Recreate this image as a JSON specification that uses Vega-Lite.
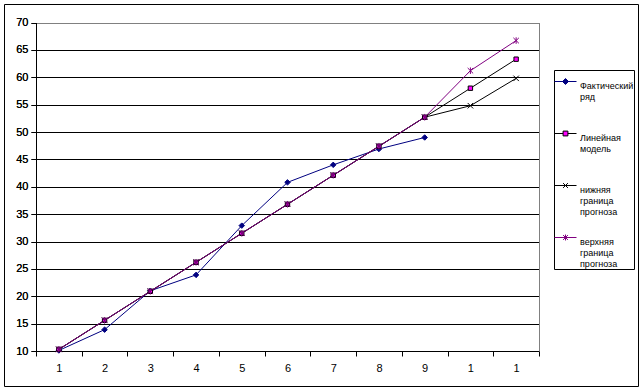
{
  "$schema": "https://vega.github.io/schema/vega-lite/v6.json",
  "width": 634,
  "height": 382,
  "autosize": {"type": "none"},
  "padding": {"left": 4, "top": 4, "right": 5, "bottom": 5},
  "background": "white",
  "config": {
    "font": "Liberation Sans",
    "view": {"stroke": "black", "strokeWidth": 1},
    "axis": {"labelFont": "Liberation Sans", "labelFontSize": 11, "labelColor": "black", "domainColor": "black", "tickColor": "black", "gridOpacity": 1, "tickSize": 5, "domainWidth": 1, "tickWidth": 1, "gridWidth": 1}
  },
  "data": {"values": [
    {"x": 1, "series": "Фактический ряд", "value": 10.1},
    {"x": 2, "series": "Фактический ряд", "value": 13.9},
    {"x": 3, "series": "Фактический ряд", "value": 21.0},
    {"x": 4, "series": "Фактический ряд", "value": 23.9},
    {"x": 5, "series": "Фактический ряд", "value": 32.9},
    {"x": 6, "series": "Фактический ряд", "value": 40.8},
    {"x": 7, "series": "Фактический ряд", "value": 44.0},
    {"x": 8, "series": "Фактический ряд", "value": 46.9},
    {"x": 9, "series": "Фактический ряд", "value": 49.0},
    {"x": 1, "series": "Линейная модель", "value": 10.3},
    {"x": 2, "series": "Линейная модель", "value": 15.6},
    {"x": 3, "series": "Линейная модель", "value": 20.9},
    {"x": 4, "series": "Линейная модель", "value": 26.2},
    {"x": 5, "series": "Линейная модель", "value": 31.5},
    {"x": 6, "series": "Линейная модель", "value": 36.8},
    {"x": 7, "series": "Линейная модель", "value": 42.1},
    {"x": 8, "series": "Линейная модель", "value": 47.4},
    {"x": 9, "series": "Линейная модель", "value": 52.7},
    {"x": 10, "series": "Линейная модель", "value": 58.0},
    {"x": 11, "series": "Линейная модель", "value": 63.3},
    {"x": 1, "series": "нижняя граница прогноза", "value": 10.3},
    {"x": 2, "series": "нижняя граница прогноза", "value": 15.6},
    {"x": 3, "series": "нижняя граница прогноза", "value": 20.9},
    {"x": 4, "series": "нижняя граница прогноза", "value": 26.2},
    {"x": 5, "series": "нижняя граница прогноза", "value": 31.5},
    {"x": 6, "series": "нижняя граница прогноза", "value": 36.8},
    {"x": 7, "series": "нижняя граница прогноза", "value": 42.1},
    {"x": 8, "series": "нижняя граница прогноза", "value": 47.4},
    {"x": 9, "series": "нижняя граница прогноза", "value": 52.7},
    {"x": 10, "series": "нижняя граница прогноза", "value": 54.8},
    {"x": 11, "series": "нижняя граница прогноза", "value": 59.8},
    {"x": 1, "series": "верхняя граница прогноза", "value": 10.3},
    {"x": 2, "series": "верхняя граница прогноза", "value": 15.6},
    {"x": 3, "series": "верхняя граница прогноза", "value": 20.9},
    {"x": 4, "series": "верхняя граница прогноза", "value": 26.2},
    {"x": 5, "series": "верхняя граница прогноза", "value": 31.5},
    {"x": 6, "series": "верхняя граница прогноза", "value": 36.8},
    {"x": 7, "series": "верхняя граница прогноза", "value": 42.1},
    {"x": 8, "series": "верхняя граница прогноза", "value": 47.4},
    {"x": 9, "series": "верхняя граница прогноза", "value": 52.7},
    {"x": 10, "series": "верхняя граница прогноза", "value": 61.2},
    {"x": 11, "series": "верхняя граница прогноза", "value": 66.7}
  ]},
  "encoding": {
    "x": {
      "field": "x", "type": "ordinal", "bandPosition": 0.5,
      "scale": {"type": "band", "paddingInner": 0, "paddingOuter": 0, "range": [32, 535]},
      "axis": {"title": null, "labelAngle": 0, "tickBand": "extent", "grid": false, "labelPadding": 6, "offset": -35, "labelExpr": "datum.value >= 10 ? '1' : datum.label"}
    },
    "y": {
      "field": "value", "type": "quantitative",
      "scale": {"domain": [10, 70], "nice": false, "zero": false, "range": [347, 18.5]},
      "axis": {"title": null, "orient": "left", "offset": -32, "values": [10, 15, 20, 25, 30, 35, 40, 45, 50, 55, 60, 65, 70], "labelPadding": 3,
        "gridColor": {"condition": {"test": "datum.value == 70", "value": "#808080"}, "value": "black"}}
    }
  },
  "layer": [
    {
      "mark": {"type": "line", "strokeWidth": 1},
      "encoding": {
        "color": {"field": "series", "type": "nominal", "legend": null,
          "scale": {"domain": ["Фактический ряд", "Линейная модель", "нижняя граница прогноза", "верхняя граница прогноза"], "range": ["#000080", "#000000", "#000000", "#800080"]}},
        "order": {"field": "x", "type": "quantitative"}
      }
    },
    {
      "mark": {"type": "point", "size": 30, "strokeWidth": 1, "opacity": 1},
      "encoding": {
        "shape": {"field": "series", "type": "nominal", "legend": null,
          "scale": {"domain": ["Фактический ряд", "Линейная модель", "нижняя граница прогноза", "верхняя граница прогноза"], "range": ["M0,-1L1,0L0,1L-1,0Z", "M-0.8,-0.8H0.8V0.8H-0.8Z", "M-1,-1L1,1M-1,1L1,-1", "M-1,-1L1,1M-1,1L1,-1M0,-1.2V1.2"]}},
        "fill": {"field": "series", "type": "nominal", "legend": null,
          "scale": {"domain": ["Фактический ряд", "Линейная модель", "нижняя граница прогноза", "верхняя граница прогноза"], "range": ["#000080", "#FF00FF", "transparent", "transparent"]}},
        "stroke": {"field": "series", "type": "nominal", "legend": null,
          "scale": {"domain": ["Фактический ряд", "Линейная модель", "нижняя граница прогноза", "верхняя граница прогноза"], "range": ["#000080", "#000000", "#000000", "#800080"]}}
      }
    },
    {
      "mark": {"type": "point", "size": 30, "opacity": 0},
      "encoding": {
        "y": {"field": "value", "type": "quantitative",
          "axis": {"title": null, "orient": "right", "offset": -99, "labels": false, "ticks": false, "grid": false, "domainColor": "#808080"}},
        "shape": {"field": "series", "type": "nominal",
          "scale": {"domain": ["Фактический ряд", "Линейная модель", "нижняя граница прогноза", "верхняя граница прогноза"], "range": ["M-1,0H1M0,-0.27L0.27,0L0,0.27L-0.27,0Z", "M-1,0H-0.22M0.22,0H1M-0.22,-0.22H0.22V0.22H-0.22Z", "M-1,0H1M-0.22,-0.22L0.22,0.22M-0.22,0.22L0.22,-0.22", "M-1,0H1M-0.22,-0.22L0.22,0.22M-0.22,0.22L0.22,-0.22M0,-0.27V0.27"]},
          "legend": {"title": null, "orient": "none", "legendX": 550, "legendY": 66, "symbolSize": 484, "symbolOpacity": 1, "symbolStrokeWidth": 1, "labelFont": "Liberation Sans", "labelFontSize": 9, "labelColor": "black",
            "labelExpr": "length(split(datum.label, ' ')) < 3 ? [split(datum.label, ' ')[0], split(datum.label, ' ')[1], ' '] : split(datum.label, ' ')",
            "labelBaseline": "top", "labelOffset": 3, "strokeColor": "black", "fillColor": "white", "padding": 0, "rowPadding": 9, "labelLimit": 200,
            "encode": {"labels": {"update": {"dy": {"value": -6}, "lineHeight": {"value": 13}}}}}},
        "fill": {"field": "series", "type": "nominal",
          "scale": {"domain": ["Фактический ряд", "Линейная модель", "нижняя граница прогноза", "верхняя граница прогноза"], "range": ["#000080", "#FF00FF", "transparent", "transparent"]}},
        "stroke": {"field": "series", "type": "nominal",
          "scale": {"domain": ["Фактический ряд", "Линейная модель", "нижняя граница прогноза", "верхняя граница прогноза"], "range": ["#000080", "#000000", "#000000", "#800080"]}}
      }
    }
  ],
  "resolve": {"scale": {"shape": "independent", "fill": "independent", "stroke": "independent", "color": "independent"}, "axis": {"y": "independent"}}
}
